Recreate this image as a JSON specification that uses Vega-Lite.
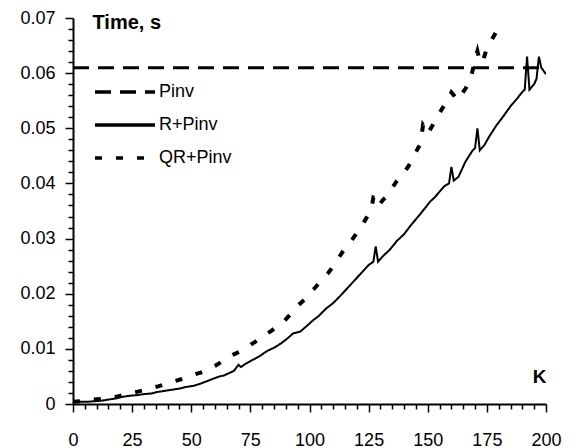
{
  "$schema": "https://vega.github.io/schema/vega-lite/v6.json",
  "width": 473,
  "height": 386,
  "autosize": {"type": "none"},
  "padding": {"left": 73, "top": 18, "right": 25, "bottom": 44},
  "config": {"view": {"stroke": null}, "font": "Liberation Sans"},
  "data": {"values": [
    {"K":0,"t":0.061,"s":"Pinv"},{"K":200,"t":0.061,"s":"Pinv"},
    {"K":0,"t":0.0003,"s":"R+Pinv"},{"K":3,"t":0.0004,"s":"R+Pinv"},{"K":6,"t":0.0004,"s":"R+Pinv"},{"K":9,"t":0.0005,"s":"R+Pinv"},{"K":12,"t":0.0006,"s":"R+Pinv"},{"K":15,"t":0.0008,"s":"R+Pinv"},{"K":18,"t":0.001,"s":"R+Pinv"},{"K":21,"t":0.0013,"s":"R+Pinv"},{"K":24,"t":0.0015,"s":"R+Pinv"},{"K":27,"t":0.0016,"s":"R+Pinv"},{"K":30,"t":0.0018,"s":"R+Pinv"},{"K":33,"t":0.0019,"s":"R+Pinv"},{"K":36,"t":0.0022,"s":"R+Pinv"},{"K":39,"t":0.0024,"s":"R+Pinv"},{"K":42,"t":0.0026,"s":"R+Pinv"},{"K":45,"t":0.0028,"s":"R+Pinv"},{"K":48,"t":0.0031,"s":"R+Pinv"},{"K":51,"t":0.0033,"s":"R+Pinv"},{"K":54,"t":0.0037,"s":"R+Pinv"},{"K":57,"t":0.0042,"s":"R+Pinv"},{"K":60,"t":0.0047,"s":"R+Pinv"},{"K":62,"t":0.005,"s":"R+Pinv"},{"K":64,"t":0.0052,"s":"R+Pinv"},{"K":66,"t":0.0056,"s":"R+Pinv"},{"K":68,"t":0.006,"s":"R+Pinv"},{"K":70,"t":0.0071,"s":"R+Pinv"},{"K":71,"t":0.0067,"s":"R+Pinv"},{"K":73,"t":0.0073,"s":"R+Pinv"},{"K":76,"t":0.008,"s":"R+Pinv"},{"K":79,"t":0.0087,"s":"R+Pinv"},{"K":82,"t":0.0096,"s":"R+Pinv"},{"K":85,"t":0.0102,"s":"R+Pinv"},{"K":88,"t":0.011,"s":"R+Pinv"},{"K":91,"t":0.012,"s":"R+Pinv"},{"K":93,"t":0.0128,"s":"R+Pinv"},{"K":96,"t":0.0131,"s":"R+Pinv"},{"K":99,"t":0.0142,"s":"R+Pinv"},{"K":101,"t":0.015,"s":"R+Pinv"},{"K":104,"t":0.016,"s":"R+Pinv"},{"K":107,"t":0.0173,"s":"R+Pinv"},{"K":110,"t":0.0183,"s":"R+Pinv"},{"K":113,"t":0.0196,"s":"R+Pinv"},{"K":116,"t":0.021,"s":"R+Pinv"},{"K":119,"t":0.0224,"s":"R+Pinv"},{"K":122,"t":0.0238,"s":"R+Pinv"},{"K":125,"t":0.0252,"s":"R+Pinv"},{"K":127,"t":0.0258,"s":"R+Pinv"},{"K":128,"t":0.0286,"s":"R+Pinv"},{"K":129,"t":0.0258,"s":"R+Pinv"},{"K":131,"t":0.0268,"s":"R+Pinv"},{"K":134,"t":0.028,"s":"R+Pinv"},{"K":137,"t":0.0296,"s":"R+Pinv"},{"K":140,"t":0.0308,"s":"R+Pinv"},{"K":143,"t":0.0325,"s":"R+Pinv"},{"K":146,"t":0.034,"s":"R+Pinv"},{"K":149,"t":0.0356,"s":"R+Pinv"},{"K":151,"t":0.0367,"s":"R+Pinv"},{"K":153,"t":0.0375,"s":"R+Pinv"},{"K":155,"t":0.0385,"s":"R+Pinv"},{"K":157,"t":0.0395,"s":"R+Pinv"},{"K":159,"t":0.04,"s":"R+Pinv"},{"K":160,"t":0.043,"s":"R+Pinv"},{"K":161,"t":0.0405,"s":"R+Pinv"},{"K":163,"t":0.0412,"s":"R+Pinv"},{"K":166,"t":0.044,"s":"R+Pinv"},{"K":169,"t":0.046,"s":"R+Pinv"},{"K":170,"t":0.0464,"s":"R+Pinv"},{"K":171,"t":0.05,"s":"R+Pinv"},{"K":172,"t":0.046,"s":"R+Pinv"},{"K":174,"t":0.047,"s":"R+Pinv"},{"K":176,"t":0.0485,"s":"R+Pinv"},{"K":179,"t":0.0505,"s":"R+Pinv"},{"K":182,"t":0.0522,"s":"R+Pinv"},{"K":185,"t":0.054,"s":"R+Pinv"},{"K":188,"t":0.0555,"s":"R+Pinv"},{"K":190,"t":0.0566,"s":"R+Pinv"},{"K":191,"t":0.057,"s":"R+Pinv"},{"K":192,"t":0.063,"s":"R+Pinv"},{"K":193,"t":0.057,"s":"R+Pinv"},{"K":195,"t":0.058,"s":"R+Pinv"},{"K":196,"t":0.059,"s":"R+Pinv"},{"K":197,"t":0.063,"s":"R+Pinv"},{"K":198,"t":0.061,"s":"R+Pinv"},{"K":200,"t":0.0598,"s":"R+Pinv"},
    {"K":0,"t":0.0004,"s":"QR+Pinv"},{"K":3,"t":0.0005,"s":"QR+Pinv"},{"K":6,"t":0.0006,"s":"QR+Pinv"},{"K":9,"t":0.0008,"s":"QR+Pinv"},{"K":12,"t":0.0009,"s":"QR+Pinv"},{"K":15,"t":0.0011,"s":"QR+Pinv"},{"K":18,"t":0.0013,"s":"QR+Pinv"},{"K":21,"t":0.0016,"s":"QR+Pinv"},{"K":24,"t":0.0019,"s":"QR+Pinv"},{"K":27,"t":0.0022,"s":"QR+Pinv"},{"K":30,"t":0.0025,"s":"QR+Pinv"},{"K":33,"t":0.0029,"s":"QR+Pinv"},{"K":36,"t":0.0032,"s":"QR+Pinv"},{"K":39,"t":0.0036,"s":"QR+Pinv"},{"K":42,"t":0.004,"s":"QR+Pinv"},{"K":45,"t":0.0044,"s":"QR+Pinv"},{"K":48,"t":0.0048,"s":"QR+Pinv"},{"K":51,"t":0.0053,"s":"QR+Pinv"},{"K":54,"t":0.0057,"s":"QR+Pinv"},{"K":57,"t":0.0062,"s":"QR+Pinv"},{"K":60,"t":0.0069,"s":"QR+Pinv"},{"K":63,"t":0.0077,"s":"QR+Pinv"},{"K":65,"t":0.0083,"s":"QR+Pinv"},{"K":68,"t":0.009,"s":"QR+Pinv"},{"K":71,"t":0.0096,"s":"QR+Pinv"},{"K":73,"t":0.0101,"s":"QR+Pinv"},{"K":76,"t":0.011,"s":"QR+Pinv"},{"K":79,"t":0.0118,"s":"QR+Pinv"},{"K":81,"t":0.0125,"s":"QR+Pinv"},{"K":84,"t":0.0133,"s":"QR+Pinv"},{"K":87,"t":0.0143,"s":"QR+Pinv"},{"K":89,"t":0.0149,"s":"QR+Pinv"},{"K":92,"t":0.0163,"s":"QR+Pinv"},{"K":95,"t":0.0178,"s":"QR+Pinv"},{"K":98,"t":0.019,"s":"QR+Pinv"},{"K":100,"t":0.02,"s":"QR+Pinv"},{"K":102,"t":0.0209,"s":"QR+Pinv"},{"K":105,"t":0.0224,"s":"QR+Pinv"},{"K":108,"t":0.0238,"s":"QR+Pinv"},{"K":111,"t":0.0256,"s":"QR+Pinv"},{"K":114,"t":0.0276,"s":"QR+Pinv"},{"K":117,"t":0.0292,"s":"QR+Pinv"},{"K":120,"t":0.031,"s":"QR+Pinv"},{"K":122,"t":0.0322,"s":"QR+Pinv"},{"K":124,"t":0.0337,"s":"QR+Pinv"},{"K":126,"t":0.035,"s":"QR+Pinv"},{"K":127,"t":0.0374,"s":"QR+Pinv"},{"K":128,"t":0.0372,"s":"QR+Pinv"},{"K":129,"t":0.0358,"s":"QR+Pinv"},{"K":131,"t":0.037,"s":"QR+Pinv"},{"K":133,"t":0.0378,"s":"QR+Pinv"},{"K":135,"t":0.0392,"s":"QR+Pinv"},{"K":137,"t":0.0405,"s":"QR+Pinv"},{"K":140,"t":0.042,"s":"QR+Pinv"},{"K":142,"t":0.0432,"s":"QR+Pinv"},{"K":144,"t":0.0448,"s":"QR+Pinv"},{"K":146,"t":0.0465,"s":"QR+Pinv"},{"K":147,"t":0.0472,"s":"QR+Pinv"},{"K":148,"t":0.0506,"s":"QR+Pinv"},{"K":149,"t":0.05,"s":"QR+Pinv"},{"K":150,"t":0.049,"s":"QR+Pinv"},{"K":152,"t":0.0505,"s":"QR+Pinv"},{"K":154,"t":0.052,"s":"QR+Pinv"},{"K":156,"t":0.0535,"s":"QR+Pinv"},{"K":158,"t":0.0548,"s":"QR+Pinv"},{"K":159,"t":0.0555,"s":"QR+Pinv"},{"K":160,"t":0.0565,"s":"QR+Pinv"},{"K":161,"t":0.056,"s":"QR+Pinv"},{"K":162,"t":0.0551,"s":"QR+Pinv"},{"K":164,"t":0.056,"s":"QR+Pinv"},{"K":166,"t":0.0572,"s":"QR+Pinv"},{"K":168,"t":0.059,"s":"QR+Pinv"},{"K":169,"t":0.0605,"s":"QR+Pinv"},{"K":170,"t":0.0625,"s":"QR+Pinv"},{"K":171,"t":0.064,"s":"QR+Pinv"},{"K":172,"t":0.0622,"s":"QR+Pinv"},{"K":173,"t":0.0618,"s":"QR+Pinv"},{"K":175,"t":0.0645,"s":"QR+Pinv"},{"K":177,"t":0.066,"s":"QR+Pinv"},{"K":179,"t":0.0675,"s":"QR+Pinv"},{"K":181,"t":0.069,"s":"QR+Pinv"}
  ]},
  "encoding": {
    "x": {
      "field": "K", "type": "quantitative",
      "scale": {"domain": [0, 200], "nice": false},
      "axis": {
        "values": [0,5,10,15,20,25,30,35,40,45,50,55,60,65,70,75,80,85,90,95,100,105,110,115,120,125,130,135,140,145,150,155,160,165,170,175,180,185,190,195,200],
        "labelExpr": "datum.value % 25 === 0 ? datum.label : ''",
        "tickSize": {"condition": {"test": "datum.value % 25 === 0", "value": 8}, "value": 5},
        "labelFontSize": 18, "labelPadding": 19, "labelColor": "black",
        "labelFlush": false, "labelOverlap": false,
        "grid": false, "domainColor": "black", "domainWidth": 2,
        "tickColor": "black", "tickWidth": 1.5,
        "title": "K", "titleFontSize": 19, "titleFontWeight": "bold", "titleColor": "black",
        "titleX": 473, "titleY": -22, "titleAlign": "right", "titleBaseline": "alphabetic"
      }
    },
    "y": {
      "field": "t", "type": "quantitative",
      "scale": {"domain": [0, 0.07], "nice": false},
      "axis": {
        "values": [0,0.002,0.004,0.006,0.008,0.01,0.012,0.014,0.016,0.018,0.02,0.022,0.024,0.026,0.028,0.03,0.032,0.034,0.036,0.038,0.04,0.042,0.044,0.046,0.048,0.05,0.052,0.054,0.056,0.058,0.06,0.062,0.064,0.066,0.068,0.07],
        "labelExpr": "abs(datum.value*100 - round(datum.value*100)) < 0.001 ? (datum.value == 0 ? '0' : format(datum.value, '.2f')) : ''",
        "tickSize": {"condition": {"test": "abs(datum.value*100 - round(datum.value*100)) < 0.001", "value": 8}, "value": 5},
        "labelFontSize": 18, "labelPadding": 10, "labelColor": "black",
        "labelFlush": false, "labelOverlap": false,
        "grid": false, "domainColor": "black", "domainWidth": 2,
        "tickColor": "black", "tickWidth": 1.5,
        "title": "Time, s", "titleFontSize": 20, "titleFontWeight": "bold", "titleColor": "black",
        "titleAngle": 0, "titleX": 19, "titleY": 10, "titleAlign": "left", "titleBaseline": "alphabetic"
      }
    },
    "strokeDash": {
      "field": "s", "type": "nominal",
      "scale": {"domain": ["Pinv", "R+Pinv", "QR+Pinv"], "range": [[16, 9], [1, 0], [7, 14]]},
      "legend": {
        "orient": "none", "legendX": 40, "legendY": 62, "title": null,
        "symbolType": "M-3,0H3", "symbolSize": 400, "symbolStrokeColor": "black",
        "symbolFillColor": "transparent", "symbolStrokeWidth": 3.5,
        "labelFontSize": 18, "labelOffset": 22, "labelColor": "black",
        "rowPadding": 12, "padding": 0
      }
    }
  },
  "layer": [
    {"transform": [{"filter": "datum.s === 'Pinv'"}], "mark": {"type": "line", "color": "black", "strokeWidth": 3, "clip": true}},
    {"transform": [{"filter": "datum.s === 'R+Pinv'"}], "mark": {"type": "line", "color": "black", "strokeWidth": 2, "clip": true}},
    {"transform": [{"filter": "datum.s === 'QR+Pinv'"}], "mark": {"type": "line", "color": "black", "strokeWidth": 4, "clip": true}}
  ]
}
